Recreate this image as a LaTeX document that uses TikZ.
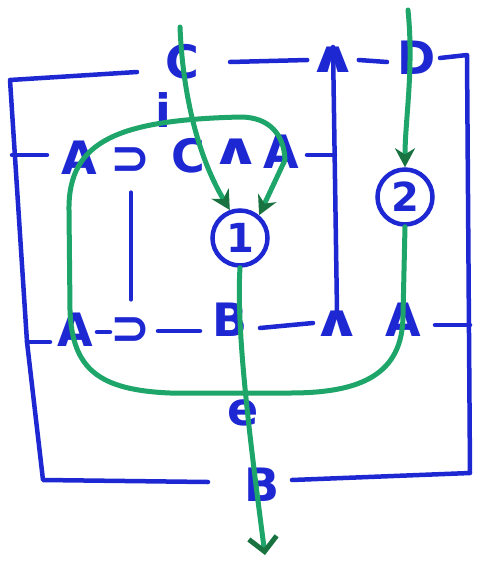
\documentclass[tikz,border=0pt]{standalone}
\usepackage{fontspec}
\setmainfont{DejaVu Sans}
\usetikzlibrary{arrows.meta}
\definecolor{ink}{RGB}{30,40,210}
\definecolor{pen}{RGB}{30,165,105}
\definecolor{pendark}{RGB}{25,115,65}
\newcommand{\wedgesym}{\scalebox{1.5}[1.05]{∧}}
\tikzset{
  lab/.style={text=ink, inner sep=0pt, font=\fontsize{46}{46}\selectfont\bfseries},
  sym/.style={text=ink, inner sep=0pt, font=\fontsize{48}{48}\selectfont\bfseries},
  wedge/.style={text=ink, inner sep=0pt, font=\fontsize{42}{42}\selectfont\bfseries},
  wire/.style={draw=ink, line width=4.5pt, line cap=round, line join=round},
  strand/.style={draw=pen, line width=5pt, line cap=round, line join=round},
  tip/.style={-{Stealth[length=19pt,width=20pt,color=pendark]}},
  endtip/.style={-{Straight Barb[length=14pt,width=28pt,color=pendark,line width=5pt]}},
  ring/.style={circle, draw=ink, line width=4.5pt, minimum size=55pt, inner sep=0pt,
    text=ink, font=\fontsize{40}{40}\selectfont\bfseries},
}
\begin{document}
\begin{tikzpicture}[x=1pt,y=-1pt]
\fill[white] (0,0) rectangle (477,563);
\useasboundingbox (0,0) rectangle (477,563);

% labels
\node[lab] (Ct) at (182,62) {C};
\node[lab] (D) at (417,58) {D};
\node[lab] (i) at (163,110) {i};
\node[lab] (A1) at (79,158) {A};
\node[sym] (S1) at (131,161) {⊃};
\node[lab] (C2) at (188,156) {C};
\node[wedge] (W1) at (236,152) {\wedgesym};
\node[lab] (A2) at (281,152) {A};
\node[lab] (A3) at (75,330) {A};
\node[sym] (S2) at (131,331) {⊃};
\node[lab] (B1) at (230,320) {B};
\node[wedge] (W2) at (337,324) {\wedgesym};
\node[lab] (A4) at (403,320) {A};
\node[lab] (e) at (243,413) {e};
\node[lab] (B2) at (262,485) {B};
\node[wedge] (W0) at (333,60) {\wedgesym};
\node[ring] (c1) at (240,238) {1};
\node[ring] (c2) at (405,197) {2};

% coordinates
\coordinate (L0) at (137,72);
\coordinate (L1) at (10,80);
\coordinate (L2) at (27,342);
\coordinate (L3) at (43,480);
\coordinate (L4) at (208,482);
\coordinate (k1) at (12,155);
\coordinate (k1e) at (47,155);
\coordinate (k2e) at (50,342);
\coordinate (t1) at (230,62);
\coordinate (t2) at (387,62);
\coordinate (R0) at (440,58);
\coordinate (R1) at (467,55);
\coordinate (R2) at (470,473);
\coordinate (R3) at (292,480);
\coordinate (k3) at (435,325);
\coordinate (k3e) at (470,325);
\coordinate (d1) at (307,155);
\coordinate (d1e) at (335,155);
\coordinate (m1) at (97,332);
\coordinate (m1e) at (110,332);
\coordinate (m2) at (158,331);
\coordinate (m2e) at (200,331);
\coordinate (m3) at (260,328);
\coordinate (m3e) at (313,323);
\coordinate (g1) at (180,27);
\coordinate (g3) at (265,555);
\coordinate (g4) at (408,10);

% blue wires
\draw[wire] (L0) -- (L1) -- (L2) -- (L3) -- (L4);
\draw[wire] (k1) -- (k1e);
\draw[wire] (L2) -- (k2e);
\draw[wire] (t1) -- (W0.west);
\draw[wire] (W0.east) -- (t2);
\draw[wire] (R0) -- (R1) -- (R2) -- (R3);
\draw[wire] (k3) -- (k3e);
\draw[wire] (d1) -- (d1e);
\draw[wire] (m1) -- (m1e);
\draw[wire] (m2) -- (m2e);
\draw[wire] (m3) -- (m3e);
\draw[wire, shorten <=18pt, shorten >=18pt] (S1) -- (S2);
\draw[wire] (W0.north) -- (W2.north);

% green strands
\draw[strand, tip] (g1) .. controls (183,100) and (200,160) .. (c1.110);
\draw[strand, tip] (c2.south) -- (403,315) .. controls (403,375) and (360,393) .. (290,393)
  -- (170,393) .. controls (100,390) and (72,370) .. (70,310) -- (69,210)
  .. controls (68,140) and (120,120) .. (240,117) .. controls (270,117) and (284,135) .. (285,160)
  -- (c1.50);
\draw[strand, endtip] (c1.south) .. controls (236,330) and (250,440) .. (g3);
\draw[strand, tip] (g4) .. controls (414,70) and (405,120) .. (c2.north);
\end{tikzpicture}
\end{document}
